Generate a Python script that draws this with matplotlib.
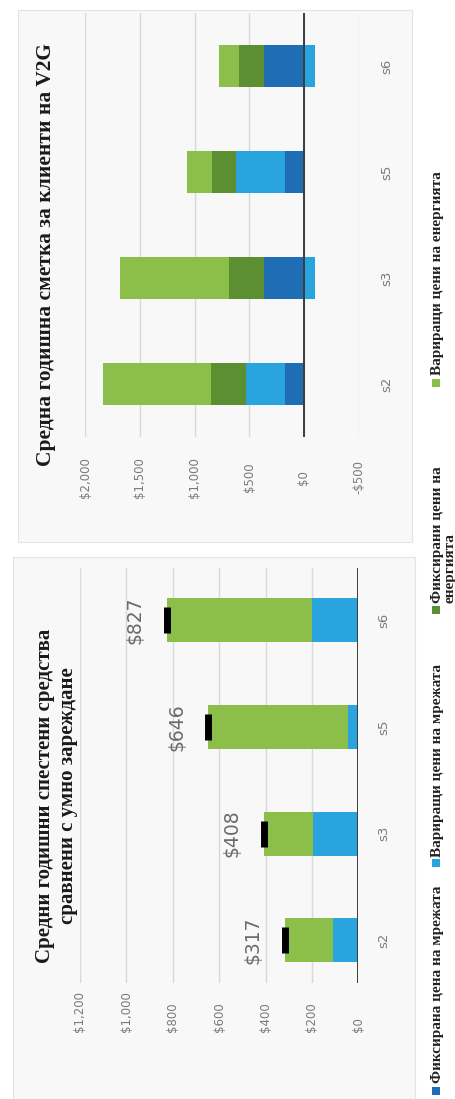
import matplotlib.pyplot as plt
from matplotlib.patches import Rectangle
import numpy as np

W, H = 456, 1099

scenarios = ['s2', 's3', 's5', 's6']

# Средни годишни спестени средства (лява диаграма)
sav_grid_var = [108, 194, 43, 198]
sav_energy_var = [209, 214, 603, 629]
sav_total = [317, 408, 646, 827]
sav_ticks = [0, 200, 400, 600, 800, 1000, 1200]
sav_ticklabels = ['$0', '$200', '$400', '$600', '$800', '$1,000', '$1,200']

# Средна годишна сметка V2G (дясна диаграма)
bill_grid_fixed = [174, 363, 174, 363]
bill_grid_var = [359, -100, 448, -100]
bill_energy_fixed = [320, 320, 216, 228]
bill_energy_var = [987, 999, 229, 183]
bill_ticks = [-500, 0, 500, 1000, 1500, 2000]
bill_ticklabels = ['-$500', '$0', '$500', '$1,000', '$1,500', '$2,000']

legend_labels = ['Фиксирана цена на мрежата', 'Вариращи цени на мрежата',
                 'Фиксирани цени на\nенергията', 'Вариращи цени на енергията']
colors = ['#1f6db5', '#2aa4de', '#5b8f31', '#8cbf4a']

tick_col = '#7a7a7a'
serif = ['Liberation Serif', 'DejaVu Serif']


def fx(px):
    return px / W


def fy(py):
    return 1 - py / H


fig = plt.figure(figsize=(W / 100, H / 100), dpi=100)
fig.patch.set_facecolor('white')

# panel backgrounds
for x0, y0, x1, y1 in [(18, 10, 412, 542), (13, 557, 415, 1099)]:
    fig.patches.append(Rectangle((fx(x0), fy(y1)), fx(x1 - x0), (y1 - y0) / H,
                                 transform=fig.transFigure, fc='#f8f8f8',
                                 ec='#e4e4e4', lw=0.8, zorder=-10))


def style(ax, ticks, ticklabels, xlim, ylim, xpad, ypad):
    ax.set_facecolor('none')
    for s in ax.spines.values():
        s.set_visible(False)
    ax.set_xlim(*xlim)
    ax.set_ylim(*ylim)
    ax.set_xticks(ticks)
    ax.set_xticklabels(ticklabels)
    ax.grid(axis='x', color='#d9d9d9', lw=1)
    ax.set_axisbelow(True)
    ax.axvline(0, color='#3c3c3c', lw=1.4, zorder=5)
    ax.tick_params(axis='x', length=0, pad=xpad, labelsize=8.5,
                   labelcolor=tick_col, labelrotation=90)
    ax.set_yticks(range(len(scenarios)))
    ax.set_yticklabels(scenarios)
    ax.yaxis.tick_right()
    ax.tick_params(axis='y', length=0, pad=ypad, labelsize=9.5,
                   labelcolor=tick_col, labelrotation=90)
    for lbl in ax.get_yticklabels():
        lbl.set_ha('center')
        lbl.set_va('center')


# ---- bottom panel: savings ----
ax1 = fig.add_axes([fx(80), fy(983), fx(278.3), 415 / H])
style(ax1, sav_ticks, sav_ticklabels, (1200, 0), (-0.40, 3.49), 35, 18)
for lbl in ax1.get_xticklabels():
    lbl.set_va('bottom')
y = np.arange(len(scenarios))
ax1.barh(y, sav_grid_var, height=0.41, color=colors[1], zorder=3)
ax1.barh(y, sav_energy_var, left=sav_grid_var, height=0.41, color=colors[3], zorder=3)
ax1.plot(sav_total, y, ls='none', marker='|', ms=18.5, mew=5, color='black', zorder=6)
for i, t in enumerate(sav_total):
    ax1.annotate('${}'.format(t), (t, i), xytext=(-23, 0), textcoords='offset points',
                 rotation=90, ha='center', va='center', fontsize=13.5, color='#6a6a6a')

fig.text(fx(57), fy(796), 'Средни годишни спестени средства\nсравнени с умно зареждане',
         rotation=90, ha='center', va='center', family=serif, weight='bold',
         fontsize=15, color='#1a1a1a', linespacing=1.2)

# ---- top panel: V2G bill ----
ax2 = fig.add_axes([fx(85.2), fy(437), fx(273.5), 424 / H])
style(ax2, bill_ticks, bill_ticklabels, (2000, -500), (-0.5, 3.5), 29, 20)
for lbl in ax2.get_xticklabels():
    lbl.set_va('center')
pos = np.zeros(len(scenarios))
neg = np.zeros(len(scenarios))
for vals, c in zip([bill_grid_fixed, bill_grid_var, bill_energy_fixed, bill_energy_var], colors):
    vals = np.array(vals, dtype=float)
    left = np.where(vals >= 0, pos, neg)
    ax2.barh(y, vals, left=left, height=0.40, color=c, zorder=3)
    pos = pos + np.clip(vals, 0, None)
    neg = neg + np.clip(vals, None, 0)

fig.text(fx(46), fy(254), 'Средна годишна сметка за клиенти на V2G',
         rotation=90, ha='center', va='center', family=serif, weight='bold',
         fontsize=15.5, color='#1a1a1a')

# ---- shared legend (rotated) ----
legend_pos = [(1091, 1083), (863, 857), (610, 603), (383, 375)]
for (sq_y, txt_y), lab, c in zip(legend_pos, legend_labels, colors):
    fig.patches.append(Rectangle((fx(432), fy(sq_y + 4)), fx(8), 8 / H,
                                 transform=fig.transFigure, fc=c, ec='none'))
    fig.text(fx(431), fy(txt_y), lab, rotation=90, rotation_mode='anchor',
             ha='left', va='top', family=serif, weight='bold', fontsize=11,
             color='#222222', linespacing=1.0)

fig.savefig('out.png', dpi=100)
